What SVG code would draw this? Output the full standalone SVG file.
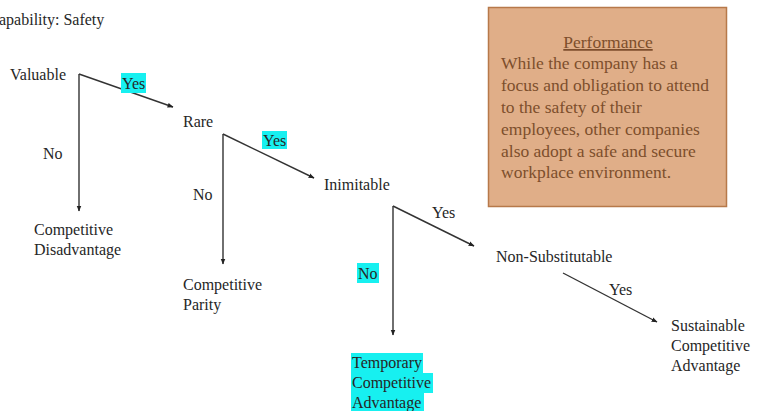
<svg xmlns="http://www.w3.org/2000/svg" width="758" height="411" viewBox="0 0 758 411">
<style>
text{font-family:"Liberation Serif","Times New Roman",serif;font-size:16px;fill:#262626}
.hl{fill:#17f0f0}
.c{stroke:#333;stroke-width:1.4;fill:none;marker-end:url(#ah)}
.p{fill:#7d4e2c;font-size:17.5px}
</style>
<defs>
<marker id="ah" viewBox="0 0 10 10" refX="9" refY="5" markerWidth="6" markerHeight="6" orient="auto" markerUnits="userSpaceOnUse">
<path d="M0,1 L10,5 L0,9 Z" fill="#222"/>
</marker>
</defs>
<rect width="758" height="411" fill="#fff"/>
<g id="title"><text x="-1" y="25">apability: Safety</text></g>
<g id="connectors">
<path class="c" d="M79,74 L173,107"/>
<path class="c" d="M79,74 L79,211"/>
<path class="c" d="M223,134 L314,178"/>
<path class="c" d="M223,134 L223,264"/>
<path class="c" d="M393,206 L474,246"/>
<path class="c" d="M393,206 L393,335"/>
<path class="c" d="M563,273 L657,322"/>
</g>
<g id="labels">
<rect class="hl" x="121" y="73" width="25" height="20"/>
<text x="122" y="89">Yes</text>
<text x="43" y="159">No</text>
<rect class="hl" x="262" y="131" width="25" height="18"/>
<text x="263" y="146">Yes</text>
<text x="193" y="200">No</text>
<text x="432" y="218">Yes</text>
<rect class="hl" x="357" y="263" width="22" height="20"/>
<text x="358" y="279">No</text>
<text x="609" y="295">Yes</text>
</g>
<g id="valuable"><text x="10" y="80">Valuable</text></g>
<g id="rare"><text x="183" y="127">Rare</text></g>
<g id="inimitable"><text x="324" y="190">Inimitable</text></g>
<g id="nonsub"><text x="496" y="262">Non-Substitutable</text></g>
<g id="disadvantage"><text x="34" y="235">Competitive</text><text x="34" y="255">Disadvantage</text></g>
<g id="parity"><text x="183" y="290">Competitive</text><text x="183" y="310">Parity</text></g>
<g id="temporary">
<rect class="hl" x="351" y="353" width="72" height="20"/>
<rect class="hl" x="351" y="373" width="82" height="20"/>
<rect class="hl" x="351" y="393" width="73" height="18"/>
<text x="352" y="368">Temporary</text><text x="352" y="388">Competitive</text><text x="352" y="408">Advantage</text>
</g>
<g id="sustainable"><text x="671" y="331">Sustainable</text><text x="671" y="351">Competitive</text><text x="671" y="371">Advantage</text></g>
<g id="performance">
<rect x="488.5" y="7.5" width="238" height="199" fill="#e0ae88" stroke="#b7794a" stroke-width="1.5"/>
<text class="p" x="608" y="48" text-anchor="middle" text-decoration="underline">Performance</text>
<text class="p" x="501" y="69">While the company has a</text>
<text class="p" x="501" y="91">focus and obligation to attend</text>
<text class="p" x="501" y="113">to the safety of their</text>
<text class="p" x="501" y="135">employees, other companies</text>
<text class="p" x="501" y="157">also adopt a safe and secure</text>
<text class="p" x="501" y="178">workplace environment.</text>
</g>
</svg>
